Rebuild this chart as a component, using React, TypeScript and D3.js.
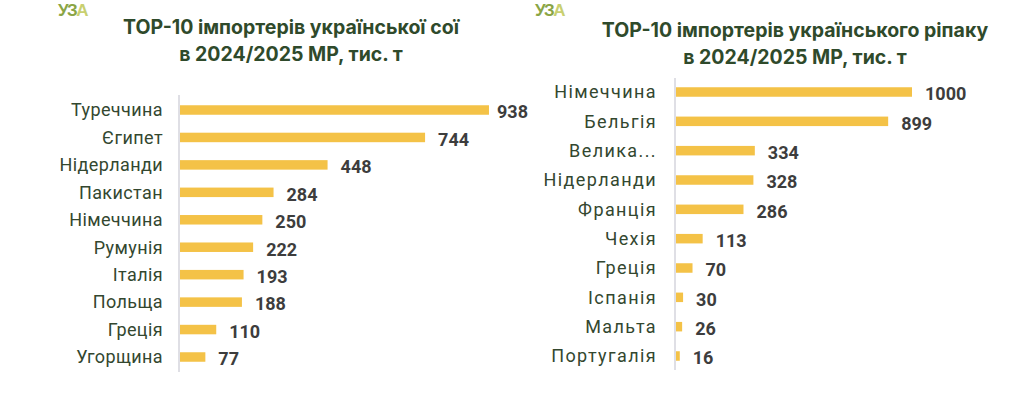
import React from "react";
import * as d3 from "d3";

const soyCountries = ["Туреччина", "Єгипет", "Нідерланди", "Пакистан", "Німеччина", "Румунія", "Італія", "Польща", "Греція", "Угорщина"];
const soyValues = [938, 744, 448, 284, 250, 222, 193, 188, 110, 77];

const rapeCountries = ["Німеччина", "Бельгія", "Велика...", "Нідерланди", "Франція", "Чехія", "Греція", "Іспанія", "Мальта", "Португалія"];
const rapeValues = [1000, 899, 334, 328, 286, 113, 70, 30, 26, 16];

const soyTitle = ["TOP-10 імпортерів української сої", "в 2024/2025 МР, тис. т"];
const rapeTitle = ["TOP-10 імпортерів українського ріпаку", "в 2024/2025 МР, тис. т"];

const BAR = "#F4C247";
const TITLE = "#2f4a2b";
const LABEL = "#33472f";
const VALUE = "#3d3d3d";

type PanelProps = {
  cats: string[];
  vals: number[];
  title: string[];
  titleX: number;
  titleY: number[];
  logoX: number;
  axisX: number;
  width1000: number;
  top: number;
  bottom: number;
  axisTop: number;
  axisBottom: number;
  labelSize: number;
  labelSpacing: number;
  labelGap: number;
  maxValueX: number;
};

const Panel = (p: PanelProps) => {
  const x = d3.scaleLinear().domain([0, 1000]).range([0, p.width1000]);
  const y = d3.scalePoint<string>().domain(p.cats).range([p.top, p.bottom]);
  const barH = 9.5;
  return (
    <g>
      <text x={p.logoX} y={16} fontFamily="Liberation Sans Narrow, Liberation Sans" fontWeight="bold" fontSize={17} fill="#8aa545" letterSpacing={-1.5}>
        УЗ<tspan fill="#c9d070">А</tspan>
      </text>
      {p.title.map((t, i) => (
        <text key={i} x={p.titleX} y={p.titleY[i]} textAnchor="middle" fontFamily="Inter" fontWeight="bold" fontSize={19.5} fill={TITLE}>
          {t}
        </text>
      ))}
      <line x1={p.axisX} x2={p.axisX} y1={p.axisTop} y2={p.axisBottom} stroke="#d4d4dc" strokeWidth={1.5} />
      {p.cats.map((c, i) => {
        const cy = y(c) as number;
        const w = x(p.vals[i]);
        return (
          <g key={c}>
            <rect x={p.axisX + 1} y={cy - barH / 2} width={w} height={barH} fill={BAR} />
            <text x={p.axisX - p.labelGap} y={cy} dy="0.35em" textAnchor="end" fontFamily="Roboto" fontSize={p.labelSize} letterSpacing={p.labelSpacing} fill={LABEL}>
              {c}
            </text>
            <text x={Math.min(p.axisX + 1 + w + 13, p.maxValueX)} y={cy + 2} dy="0.35em" fontFamily="Roboto" fontWeight="bold" fontSize={18} fill={VALUE}>
              {p.vals[i]}
            </text>
          </g>
        );
      })}
    </g>
  );
};

export default function App() {
  return (
    <svg width={1020} height={393} style={{ position: "absolute", left: 0, top: 0, background: "#fff" }}>
      <rect width={1020} height={393} fill="#fff" />
      <Panel
        cats={soyCountries}
        vals={soyValues}
        title={soyTitle}
        titleX={291}
        titleY={[34, 61]}
        logoX={58}
        axisX={179}
        width1000={329.4}
        top={110}
        bottom={357}
        axisTop={95}
        axisBottom={372}
        labelSize={18}
        labelSpacing={0.4}
        labelGap={16}
        maxValueX={497}
        />
      <Panel
        cats={rapeCountries}
        vals={rapeValues}
        title={rapeTitle}
        titleX={795}
        titleY={[37, 64]}
        logoX={535}
        axisX={675}
        width1000={236}
        top={92}
        bottom={356}
        axisTop={78}
        axisBottom={370}
        labelSize={18}
        labelSpacing={1.4}
        labelGap={18}
        maxValueX={1000}
      />
    </svg>
  );
}
